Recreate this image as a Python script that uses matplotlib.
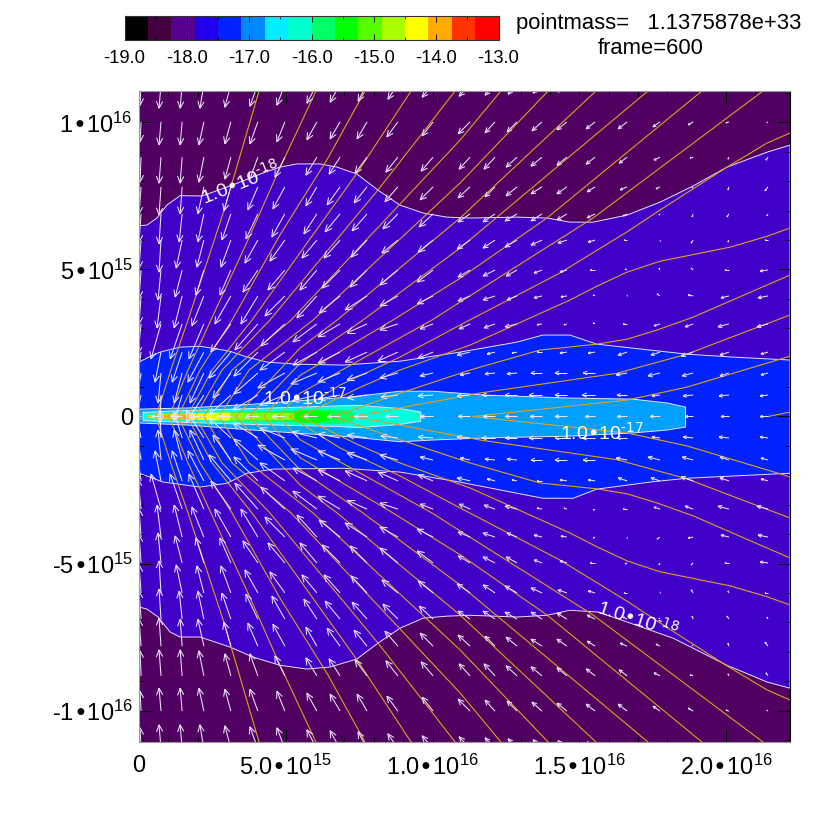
import numpy as np
import matplotlib
matplotlib.use("Agg")
import matplotlib.pyplot as plt
from matplotlib.collections import LineCollection
from matplotlib.ticker import MultipleLocator

plt.rcParams["font.family"] = ["Liberation Sans", "DejaVu Sans"]
plt.rcParams["mathtext.default"] = "regular"

# colour bar: log10 density levels
cbar_edges = [-19.0, -18.625, -18.25, -17.875, -17.5, -17.125, -16.75, -16.375, -16.0,
              -15.625, -15.25, -14.875, -14.5, -14.125, -13.75, -13.375, -13.0]
cbar_colors = ["#000000", "#44003f", "#55008f", "#2200ee", "#0022ff", "#0088ff", "#00eeff", "#00ffcc",
               "#00ff66", "#00ff00", "#55ff00", "#aaff00", "#ffff00", "#ffaa00", "#ff3300", "#ff0000"]
cbar_ticks = [-19, -18, -17, -16, -15, -14, -13]
cbar_ticklabels = ["-19.0", "-18.0", "-17.0", "-16.0", "-15.0", "-14.0", "-13.0"]

# all lengths below in units of 1e15
outer_top_x = [0, .27, .61, .95, 1.40, 2.15, 3.10, 4.22, 4.80, 5.38, 6.17, 6.75, 7.42, 8.14, 8.89, 9.68, 10.49,
               11.28, 12.88, 13.90, 14.68, 15.47, 16.63, 17.75, 18.88, 20.03, 21.40, 22.18]
outer_top_y = [6.49, 6.51, 6.75, 7.19, 7.51, 7.50, 7.84, 8.28, 8.48, 8.59, 8.59, 8.48, 8.25, 7.70, 7.19, 6.92, 6.78,
               6.75, 6.78, 6.75, 6.61, 6.61, 6.85, 7.29, 7.84, 8.48, 8.99, 9.23]
outer_bot_x = [0, .27, .65, 1.06, 1.40, 2.08, 3.10, 3.88, 4.80, 5.72, 6.51, 7.42, 8.14, 8.89, 9.68, 10.49,
               11.28, 12.88, 13.90, 14.68, 15.64, 16.63, 18.2, 20.03, 21.40, 22.18]
outer_bot_y = [-6.48, -6.55, -6.82, -7.33, -7.50, -7.50, -7.84, -8.18, -8.46, -8.59, -8.52, -8.25, -7.71, -7.20,
               -6.86, -6.79, -6.76, -6.82, -6.76, -6.59, -6.65, -6.99, -7.54, -8.46, -9.03, -9.24]

blue_top_x = [0, .27, .72, 1.40, 2.08, 3.10, 3.68, 4.36, 5.38, 6.95, 8.89, 10.93, 12.88, 13.76, 14.68, 15.6,
              17.41, 18.67, 20.24, 22.18]
blue_top_y = [1.85, 1.99, 2.19, 2.36, 2.39, 2.22, 2.02, 1.85, 1.78, 1.75, 1.88, 2.19, 2.53, 2.77, 2.77, 2.46,
              2.26, 2.12, 2.02, 1.92]
blue_bot_x = [0, .37, .82, 2.08, 3.0, 3.68, 4.57, 6.95, 8.89, 10.93, 12.88, 13.76, 14.79, 15.6, 17.41, 18.67, 22.18]
blue_bot_y = [-1.93, -2.06, -2.23, -2.40, -2.27, -1.93, -1.79, -1.76, -1.89, -2.23, -2.61, -2.78, -2.78, -2.47,
              -2.23, -2.10, -1.93]

sky_x = [0, 1.63, 3.88, 7.16, 8.89, 10.01, 11.73, 14.59, 16.83, 17.99, 18.62]
sky_top = [.25, .29, .42, .66, .86, .86, .73, .63, .59, .46, .32]
sky_bot = [-.22, -.29, -.46, -.69, -.86, -.80, -.73, -.67, -.56, -.46, -.36]

teal_x = [.14, 1.5, 4.22, 6.78, 7.5, 8.9, 9.6]
teal_top = [.14, .20, .28, .36, .38, .27, .15]
teal_bot = [-.14, -.20, -.28, -.34, -.38, -.27, -.16]

green_x = [.3, 3.0, 5.3, 6.6, 7.0, 7.32]
green_top = [.05, .14, .20, .26, .22, .13]
green_bot = [-.05, -.14, -.20, -.26, -.24, -.13]

lime2_x = [.3, 3.0, 5.3, 5.35, 6.2, 6.55, 6.6]
lime2_top = [.05, .13, .13, .21, .20, .13, .10]
lime2_bot = [-.05, -.13, -.13, -.21, -.20, -.10, -.08]

lime_x = [.3, 3.0, 5.0, 5.3]
lime_top = [.05, .13, .13, .11]
lime_bot = [-.05, -.13, -.13, -.11]

yellow_x = [.3, 1.7, 3.1]
yellow_top = [.05, .10, .14]
yellow_bot = [-.05, -.10, -.14]

orange_x = [.3, 1.0, 1.7]
orange_top = [.03, .06, .08]
orange_bot = [-.03, -.06, -.08]

# field lines, upper half; the lower half is its mirror image
line_a = ([.58, 1.12, 1.67, 2.90, 4.09], [0, 1.69, 3.28, 7.02, 11.07])
line_b = ([1.02, 1.67, 2.45, 3.68, 4.80, 6.03], [0, 1.58, 3.28, 5.93, 8.45, 11.07])
line_c = ([1.33, 2.08, 3.17, 4.80, 6.44, 7.70], [0, 1.58, 3.28, 6.17, 8.79, 11.07])
line_d = ([1.64, 2.49, 3.85, 7.43, 9.27], [0, 1.58, 3.28, 8.28, 11.07])
line_e = ([1.91, 2.83, 4.46, 8.14, 9.68, 10.77], [0, 1.58, 3.28, 7.70, 9.67, 11.07])
line_f = ([2.21, 3.17, 5.18, 10.94, 12.33], [0, 1.58, 3.28, 9.40, 11.07])
line_g = ([2.73, 3.75, 5.93, 10.94, 13.94], [0, 1.58, 3.28, 7.94, 11.07])
line_h = ([3.30, 5.49, 6.75, 10.94, 15.57], [0, 2.33, 3.28, 6.75, 11.07])
line_i = ([3.75, 5.49, 7.63, 10.94, 17.34], [0, 1.81, 3.28, 5.73, 11.07])
line_j = ([4.26, 5.49, 8.65, 10.94, 13.90, 19.18], [0, 1.40, 3.28, 4.70, 6.75, 11.07])
line_k = ([4.74, 5.49, 9.98, 10.94, 15.47, 21.26], [0, .79, 3.28, 3.89, 6.75, 11.07])
line_l = ([5.14, 6.85, 8.89, 10.94, 14.34, 16.63, 17.75, 20.03, 21.40, 22.18],
          [0, 1.07, 2.02, 3.11, 4.88, 6.28, 7.02, 8.48, 9.30, 9.64])
line_m = ([5.49, 7.53, 8.89, 11.28, 12.06, 14.68, 15.60, 16.63, 17.75, 20.14, 21.40, 22.18],
          [0, .99, 1.58, 2.43, 2.78, 3.96, 4.43, 4.91, 5.28, 5.76, 6.13, 6.41])
line_n = ([6.61, 8.89, 11.28, 13.66, 15.60, 16.63, 17.65, 18.88, 22.18],
          [0, .79, 1.58, 2.26, 2.46, 2.63, 2.94, 3.38, 4.81])
line_o = ([7.19, 8.14, 11.62, 16.29, 18.67, 20.82, 22.18], [0, .15, .80, 1.47, 2.12, 2.94, 3.45])
line_p = ([11.38, 16.63, 18.67, 22.18], [0, .56, 1.00, 2.05])
field_lines = [line_a, line_b, line_c, line_d, line_e, line_f, line_g, line_h, line_i, line_j, line_k, line_l,
               line_m, line_n, line_o, line_p]
short_line = ([21.43, 22.18], [0, .15])

# velocity field, tail positions and components (upper half, vz is towards the disc plane)
vel_x = [.07, .75, 1.47, 2.21, 3.13, 4.05, 4.97, 6.06, 6.85, 7.77, 8.82, 10.02, 11.28, 12.13, 12.88, 13.73, 14.58,
         15.54, 16.63, 17.75, 18.88, 20.10, 21.43]
vel_y = [11.3, 10.02, 8.82, 7.81, 6.89, 6.00, 4.98, 4.10, 3.15, 2.19, 1.48, .73, 0]
vx = [
    [-1, -2, -2, -4, -6, -8, -8, -10, -10, -9, -10, -11, -11, -10, -9, -9, -9, -8, -8, -6, -4, -2, -1],
    [-1, -2, -2, -5, -6, -8, -8, -10, -10, -10, -11, -11, -12, -10, -10, -10, -10, -9, -9, -7, -5, -3, -1],
    [-1, -2, -2, -5, -6, -8, -10, -11, -11, -12, -12, -12, -11, -11, -11, -11, -10, -9, -8, -6, -3, -1, -2],
    [-2, -2, -2, -6, -7, -10, -12, -11, -13, -13, -13, -13, -12, -10, -11, -11, -10, -8, -7, -4, -1, -1, -3],
    [-2, -2, -3, -6, -9, -12, -13, -13, -15, -15, -15, -14, -12, -12, -12, -11, -10, -8, -4, -1, -1, -2, -1],
    [-2, -2, -6, -7, -10, -13, -15, -15, -16, -16, -16, -15, -13, -12, -12, -11, -9, -7, -3, 0, -2, -1, -3],
    [-2, -3, -7, -8, -11, -15, -17, -17, -18, -17, -18, -16, -12, -12, -11, -8, -7, -5, -2, -1, -2, -4, -8],
    [-2, -4, -8, -12, -16, -17, -20, -20, -21, -22, -18, -16, -12, -12, -10, -8, -6, -2, 0, -3, -5, -8, -10],
    [-3, -10, -12, -15, -20, -23, -24, -24, -22, -20, -18, -13, -11, -11, -12, -5, -3, -2, -4, -6, -8, -11, -11],
    [-4, -6, -10, -16, -22, -24, -25, -24, -22, -22, -20, -15, -13, -8, -5, -5, -7, -7, -9, -9, -12, -9, -7],
    [-5, -3, -8, -14, -18, -24, -27, -26, -22, -20, -18, -13, -10, -10, -10, -11, -12, -12, -11, -12, -11, -9, -7],
    [-5, -1, -8, -18, -22, -25, -25, -25, -22, -20, -17, -15, -13, -13, -12, -13, -12, -13, -10, -8, -10, -10, -8],
    [-8, -10, -12, -12, -13, -13, -13, -13, -13, -13, -13, -13, -12, -12, -12, -12, -12, -10, -10, -10, -8, -8, -8],
]
vz = [
    [21, 24, 24, 24, 23, 22, 21, 19, 18, 17, 15, 13, 12, 11, 10, 9, 8, 7, 6, 5, 3, 2, 1],
    [20, 23, 23, 23, 22, 22, 20, 18, 17, 17, 15, 14, 12, 11, 10, 9, 8, 7, 7, 5, 3, 1, 1],
    [25, 26, 26, 25, 22, 22, 20, 18, 17, 16, 15, 14, 12, 12, 10, 9, 8, 7, 6, 3, 1, 2, 3],
    [27, 28, 27, 27, 24, 23, 22, 19, 18, 16, 15, 13, 11, 10, 9, 7, 7, 5, 3, 2, 1, 3, 4],
    [28, 30, 28, 28, 26, 25, 23, 20, 18, 17, 15, 13, 8, 8, 7, 7, 6, 4, 2, 1, 3, 3, 2],
    [28, 32, 28, 27, 27, 23, 21, 18, 18, 17, 13, 12, 9, 8, 7, 5, 3, 2, 0, 1, 3, 2, 0],
    [28, 30, 27, 25, 25, 22, 20, 20, 18, 17, 15, 12, 7, 6, 6, 3, 2, 0, -1, -2, -2, 0, 1],
    [28, 32, 32, 30, 28, 28, 20, 22, 17, 14, 10, 8, 5, 4, 4, 2, 1, -1, -1, -2, -1, 2, 2],
    [30, 35, 35, 35, 28, 26, 22, 18, 13, 9, 6, 5, 5, 4, 3, 1, 1, -1, 0, 2, 3, 3, 3],
    [30, 30, 30, 30, 26, 24, 18, 13, 11, 10, 9, 6, 3, 2, 1, 0, 1, 1, 3, 3, 4, 3, 2],
    [30, 30, 30, 30, 25, 21, 15, 11, 9, 7, 5, 3, 2, 1, 1, 0, 0, 0, 2, 3, 3, 3, 2],
    [25, 28, 26, 28, 20, 15, 10, 6, 4, 3, 2, 1, 1, 0, 0, 0, 0, 0, 0, 1, 1, 1, 1],
    [0] * 23,
]

xtick_pos = [0, 5, 10, 15, 20]
xtick_labels = ["0", "$5.0•10^{15}$", "$1.0•10^{16}$", "$1.5•10^{16}$", "$2.0•10^{16}$"]
ytick_pos = [-10, -5, 0, 5, 10]
ytick_labels = ["-$1•10^{16}$", "-$5•10^{15}$", "0", "$5•10^{15}$", "$1•10^{16}$"]

px_per_unit = 29.4
W = 830.0

fig = plt.figure(figsize=(8.3, 8.3), dpi=100)
ax = fig.add_axes([139 / W, 1 - 742 / W, 651 / W, 651 / W])
ax.set_facecolor("#4f0060")
ax.set_xlim(0, 22.18)
ax.set_ylim(-11.07, 11.07)


def region(xt, yt, xb, yb, color, z, edge=True):
    ax.fill(list(xt) + list(xb)[::-1], list(yt) + list(yb)[::-1], color=color, lw=0, zorder=z)
    if edge:
        ax.plot(list(xt) + list(xb)[::-1] + [xt[0]], list(yt) + list(yb)[::-1] + [yt[0]], color="#e8e0ff", lw=0.7,
                zorder=z + 0.5)


region(outer_top_x, outer_top_y, outer_bot_x, outer_bot_y, "#4000c8", 1)
region(blue_top_x, blue_top_y, blue_bot_x, blue_bot_y, "#0022ff", 2)
region(sky_x, sky_top, sky_x, sky_bot, "#00a0ff", 3)
region(teal_x, teal_top, teal_x, teal_bot, "#00ffdc", 4)
region(green_x, green_top, green_x, green_bot, "#00ff66", 5, edge=False)
region(lime2_x, lime2_top, lime2_x, lime2_bot, "#00ff00", 6, edge=False)
region(lime_x, lime_top, lime_x, lime_bot, "#88ff00", 7, edge=False)
region(yellow_x, yellow_top, yellow_x, yellow_bot, "#ffff00", 8, edge=False)
region(orange_x, orange_top, orange_x, orange_bot, "#ffaa00", 9, edge=False)

for lx, ly in field_lines:
    ax.plot(lx, ly, color="#e0a020", lw=0.8, zorder=12)
    ax.plot(lx, -np.array(ly), color="#e0a020", lw=0.8, zorder=12)
ax.plot(short_line[0], short_line[1], color="#e0a020", lw=0.8, zorder=12)

# open headed arrows, head size follows the arrow length
segs = []
for i, y0 in enumerate(vel_y):
    for j, x0 in enumerate(vel_x):
        for sign in ([1, -1] if y0 > 0 else [1]):
            dx = vx[i][j] / px_per_unit
            dy = -sign * vz[i][j] / px_per_unit
            length = np.hypot(dx, dy)
            if length == 0:
                continue
            tail = np.array([x0, sign * y0])
            tip = tail + [dx, dy]
            d = np.array([dx, dy]) / length
            n = np.array([-d[1], d[0]])
            hl = min(7 / px_per_unit, 0.35 * length)
            segs.append([tail, tip])
            segs.append([tip - hl * d + 0.45 * hl * n, tip])
            segs.append([tip - hl * d - 0.45 * hl * n, tip])
ax.add_collection(LineCollection(segs, colors="#eee4ff", linewidths=0.75, zorder=14))

label_style = dict(color="white", fontsize=14, ha="center", va="center", zorder=16)
ax.text(3.45, 7.95, "$1.0•10^{\\text{-18}}$", rotation=22, **label_style)
ax.text(17.0, -6.9, "$1.0•10^{\\text{-18}}$", rotation=-18, **label_style)
ax.text(5.66, .63, "$1.0•10^{\\text{-17}}$", **label_style)
ax.text(15.78, -.56, "$1.0•10^{\\text{-17}}$", **label_style)

ax.set_xticks(xtick_pos, xtick_labels)
ax.set_yticks(ytick_pos, ytick_labels)
ax.xaxis.set_minor_locator(MultipleLocator(1))
ax.yaxis.set_minor_locator(MultipleLocator(1))
ax.tick_params(which="major", direction="in", length=9.5, width=0.7, top=True, right=True, labelsize=17)
ax.tick_params(which="minor", direction="in", length=3.5, width=0.7, top=True, right=True)
ax.tick_params(axis="x", which="major", pad=9)
ax.tick_params(axis="y", which="major", pad=4.5)
ax.set_axisbelow(False)
for side in ("top", "bottom", "left"):
    ax.spines[side].set_color("#999999")
ax.spines["right"].set_color("black")
for side in ax.spines:
    ax.spines[side].set_linewidth(0.8)
    ax.spines[side].set_zorder(20)

cax = fig.add_axes([124.5 / W, 1 - 40 / W, 374 / W, 24.5 / W])
cax.pcolormesh(cbar_edges, [0, 1], [list(range(16))], cmap=matplotlib.colors.ListedColormap(cbar_colors),
               vmin=0, vmax=15)
cax.set_yticks([])
cax.set_xticks(cbar_ticks, cbar_ticklabels)
cax.xaxis.set_minor_locator(MultipleLocator(0.5))
cax.tick_params(which="major", direction="in", length=4, width=0.6, top=True, labelsize=13.2, pad=7.5)
cax.tick_params(which="minor", direction="in", length=2.5, width=0.6, top=True)
for side in cax.spines:
    cax.spines[side].set_linewidth(0.8)
    cax.spines[side].set_color("#333333")

fig.text(516 / W, 1 - 23.5 / W, "pointmass=   1.1375878e+33", fontsize=15.8, va="center", ha="left")
fig.text(598 / W, 1 - 48 / W, "frame=600", fontsize=15.8, va="center", ha="left")

fig.savefig("out.png", dpi=100)
